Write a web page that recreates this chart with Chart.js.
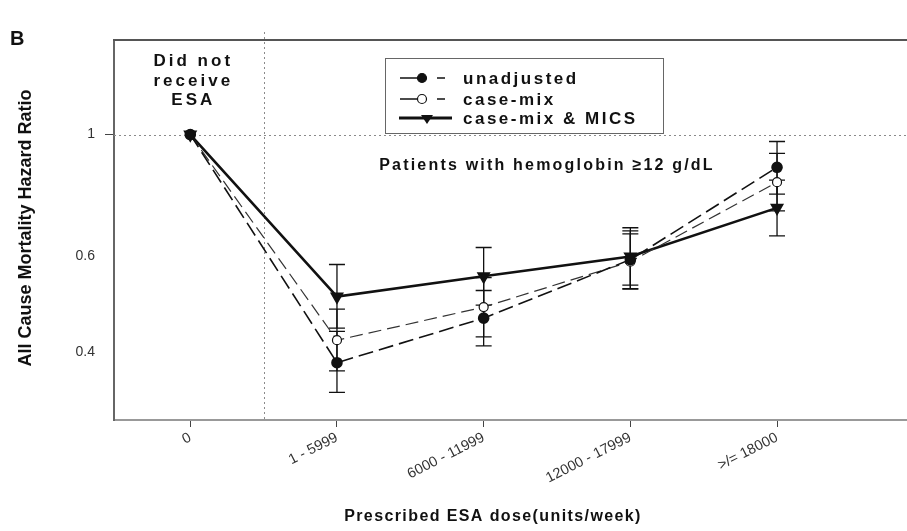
<!DOCTYPE html>
<html>
<head>
<meta charset="utf-8">
<script src="https://cdn.jsdelivr.net/npm/chart.js@4.4.0/dist/chart.umd.min.js"></script>
<style>
  html, body { margin: 0; padding: 0; background: #fff; }
  #wrap { position: relative; width: 907px; height: 531px; }
</style>
</head>
<body>
<div id="wrap"><canvas id="hrChart" width="907" height="531"></canvas></div>
<script>
// dose categories on the x axis
const doseLabels = ['0', '1 - 5999', '6000 - 11999', '12000 - 17999', '>/= 18000'];
const yTickValues = [0.4, 0.6, 1];

// hazard ratios and 95% CI
const unadjusted = [1.0, 0.382, 0.461, 0.590, 0.871];
const unadjustedLow = [null, 0.337, 0.410, 0.522, 0.778];
const unadjustedHigh = [null, 0.436, 0.518, 0.666, 0.971];

const caseMix = [1.0, 0.420, 0.483, 0.585, 0.818];
const caseMixLow = [null, 0.369, 0.426, 0.521, 0.725];
const caseMixHigh = [null, 0.479, 0.547, 0.658, 0.924];

const caseMixMics = [1.0, 0.505, 0.550, 0.598, 0.734];
const caseMixMicsLow = [null, 0.442, 0.487, 0.530, 0.652];
const caseMixMicsHigh = [null, 0.578, 0.621, 0.675, 0.825];

const FONT = "'Liberation Sans', Arial, sans-serif";

function toPoints(values) {
  return values.map((v, i) => ({ x: i, y: v }));
}

// dotted reference lines + error bars, drawn under the series
const errorBars = {
  id: 'errorBars',
  beforeDatasetsDraw(chart) {
    const { ctx, chartArea, scales: { x, y } } = chart;
    ctx.save();

    ctx.strokeStyle = '#8a8a8a';
    ctx.lineWidth = 1;
    ctx.setLineDash([2, 3]);
    const y1 = Math.round(y.getPixelForValue(1)) + 0.5;
    ctx.beginPath();
    ctx.moveTo(chartArea.left, y1);
    ctx.lineTo(chartArea.right, y1);
    ctx.stroke();
    const xv = Math.round(x.getPixelForValue(0.5)) + 0.5;
    ctx.beginPath();
    ctx.moveTo(xv, chartArea.top - 8);
    ctx.lineTo(xv, chartArea.bottom);
    ctx.stroke();
    ctx.setLineDash([]);

    ctx.strokeStyle = '#111';
    ctx.lineWidth = 1.3;
    chart.data.datasets.forEach((ds) => {
      ds.data.forEach((p, i) => {
        const lo = ds.errLow[i], hi = ds.errHigh[i];
        if (lo == null || hi == null) return;
        const px = x.getPixelForValue(p.x);
        const pLo = y.getPixelForValue(lo);
        const pHi = y.getPixelForValue(hi);
        ctx.beginPath();
        ctx.moveTo(px, pLo);
        ctx.lineTo(px, pHi);
        ctx.moveTo(px - 8, pLo);
        ctx.lineTo(px + 8, pLo);
        ctx.moveTo(px - 8, pHi);
        ctx.lineTo(px + 8, pHi);
        ctx.stroke();
      });
    });
    ctx.restore();
  },
  afterDraw(chart) {
    const { ctx, chartArea, scales: { x } } = chart;
    ctx.save();

    // top frame line
    ctx.strokeStyle = '#555';
    ctx.lineWidth = 2;
    ctx.beginPath();
    ctx.moveTo(chartArea.left - 1, chartArea.top);
    ctx.lineTo(chartArea.right, chartArea.top);
    ctx.stroke();

    ctx.fillStyle = '#111';
    ctx.textAlign = 'left';
    ctx.textBaseline = 'middle';
    ctx.font = 'bold 20px ' + FONT;
    ctx.fillText('B', 10, 39);

    // left annotation
    ctx.textAlign = 'center';
    ctx.font = 'bold 17px ' + FONT;
    ctx.letterSpacing = '3px';
    const cx = x.getPixelForValue(0);
    ctx.fillText('Did not', cx + 3, 61);
    ctx.fillText('receive', cx + 3, 81);
    ctx.fillText('ESA', cx + 3, 100);

    ctx.font = 'bold 16px ' + FONT;
    ctx.letterSpacing = '2.2px';
    ctx.fillText('Patients with hemoglobin \u226512 g/dL', 547, 166);

    // legend box
    ctx.letterSpacing = '0px';
    ctx.fillStyle = '#fff';
    ctx.fillRect(385, 58, 278, 75);
    ctx.strokeStyle = '#666';
    ctx.lineWidth = 1;
    ctx.strokeRect(385.5, 58.5, 278, 75);

    const rows = [
      { ds: chart.data.datasets[0], y: 78 },
      { ds: chart.data.datasets[1], y: 99 },
      { ds: chart.data.datasets[2], y: 118 }
    ];
    rows.forEach((r, k) => {
      ctx.strokeStyle = '#111';
      ctx.fillStyle = r.ds.pointBackgroundColor;
      if (k < 2) {
        ctx.lineWidth = 1.5;
        ctx.beginPath();
        ctx.moveTo(400, r.y); ctx.lineTo(418, r.y);
        ctx.moveTo(437, r.y); ctx.lineTo(445, r.y);
        ctx.stroke();
        ctx.beginPath();
        ctx.arc(422, r.y, 4.5, 0, Math.PI * 2);
        ctx.fill();
        ctx.lineWidth = 1.2;
        ctx.stroke();
      } else {
        ctx.lineWidth = 2.8;
        ctx.beginPath();
        ctx.moveTo(399, r.y); ctx.lineTo(452, r.y);
        ctx.stroke();
        ctx.fillStyle = '#111';
        ctx.beginPath();
        ctx.moveTo(421, r.y - 3); ctx.lineTo(433, r.y - 3); ctx.lineTo(427, r.y + 6);
        ctx.closePath();
        ctx.fill();
      }
      ctx.fillStyle = '#111';
      ctx.textAlign = 'left';
      ctx.font = 'bold 17px ' + FONT;
      ctx.letterSpacing = '2.5px';
      ctx.fillText(r.ds.label, 463, r.y + 1);
      ctx.letterSpacing = '0px';
    });

    // axis titles
    ctx.fillStyle = '#111';
    ctx.textAlign = 'center';
    ctx.font = 'bold 16px ' + FONT;
    ctx.letterSpacing = '1.4px';
    ctx.fillText('Prescribed ESA dose(units/week)', 493, 517);
    ctx.letterSpacing = '0px';

    ctx.translate(26, 228);
    ctx.rotate(-Math.PI / 2);
    ctx.font = "bold 18px 'Liberation Sans Narrow', " + FONT;
    ctx.fillText('All Cause Mortality Hazard Ratio', 0, 0);
    ctx.restore();
  }
};

const ctx = document.getElementById('hrChart').getContext('2d');

const hrChart = new Chart(ctx, {
  type: 'line',
  data: {
    datasets: [
      {
        label: 'unadjusted',
        data: toPoints(unadjusted),
        errLow: unadjustedLow,
        errHigh: unadjustedHigh,
        borderColor: '#111',
        borderWidth: 1.6,
        borderDash: [15, 6],
        pointStyle: 'circle',
        pointRadius: 5,
        pointBackgroundColor: '#111',
        pointBorderColor: '#111',
        fill: false,
        tension: 0
      },
      {
        label: 'case-mix',
        data: toPoints(caseMix),
        errLow: caseMixLow,
        errHigh: caseMixHigh,
        borderColor: '#333',
        borderWidth: 1.2,
        borderDash: [13, 6],
        pointStyle: 'circle',
        pointRadius: 4.5,
        pointBorderWidth: 1.2,
        pointBackgroundColor: '#fff',
        pointBorderColor: '#111',
        fill: false,
        tension: 0
      },
      {
        label: 'case-mix & MICS',
        data: toPoints(caseMixMics),
        errLow: caseMixMicsLow,
        errHigh: caseMixMicsHigh,
        borderColor: '#111',
        borderWidth: 2.6,
        pointStyle: 'triangle',
        pointRotation: 180,
        pointRadius: 5.5,
        pointBackgroundColor: '#111',
        pointBorderColor: '#111',
        fill: false,
        tension: 0
      }
    ]
  },
  options: {
    responsive: false,
    animation: false,
    layout: { autoPadding: false, padding: { left: 0, top: 40, right: 0, bottom: 0 } },
    plugins: { legend: { display: false }, tooltip: { enabled: false } },
    scales: {
      x: {
        type: 'linear',
        min: -0.52,
        max: 4.886,
        afterBuildTicks: (scale) => { scale.ticks = doseLabels.map((_, i) => ({ value: i })); },
        afterFit: (scale) => { scale.height = 111; },
        grid: { drawOnChartArea: false, drawTicks: true, tickLength: 7, color: '#444' },
        border: { display: true, color: '#999', width: 2 },
        ticks: {
          autoSkip: false,
          maxRotation: 27,
          minRotation: 27,
          padding: 2,
          color: '#333',
          font: { family: FONT, size: 14.5 },
          callback: (v) => doseLabels[v]
        }
      },
      y: {
        type: 'logarithmic',
        min: 0.3,
        max: 1.49,
        afterBuildTicks: (scale) => { scale.ticks = yTickValues.map((v) => ({ value: v })); },
        afterFit: (scale) => { scale.width = 114; },
        grid: {
          drawOnChartArea: false,
          drawTicks: true,
          tickLength: 9,
          tickColor: (c) => (c.tick && c.tick.value === 1 ? '#444' : 'rgba(0,0,0,0)')
        },
        border: { display: true, color: '#666', width: 2 },
        ticks: {
          padding: 10,
          color: '#333',
          font: { family: FONT, size: 14 },
          callback: (v) => String(v)
        }
      }
    }
  },
  plugins: [errorBars]
});
</script>
</body>
</html>
